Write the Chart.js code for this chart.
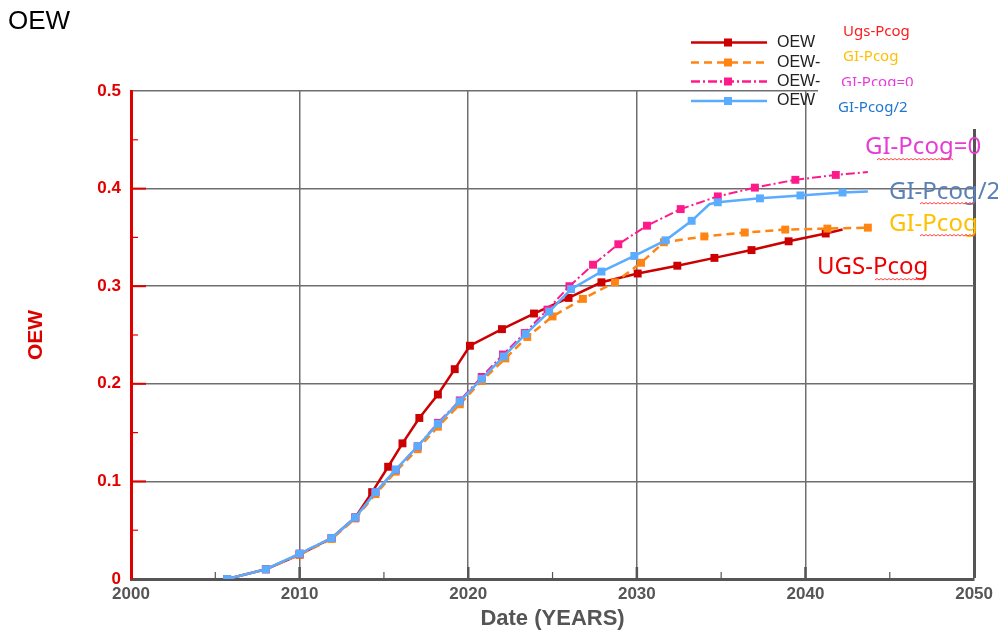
<!DOCTYPE html>
<html>
<head>
<meta charset="utf-8">
<script src="https://cdn.jsdelivr.net/npm/chart.js@4.4.1/dist/chart.umd.min.js"></script>
<style>
html,body{margin:0;padding:0;background:#fff;}
#wrap{position:relative;width:998px;height:632px;}
canvas{display:block;}
</style>
</head>
<body>
<div id="wrap"><canvas id="c" width="998" height="632"></canvas></div>
<script>
// ---- data ----
const xTickLabels = ['2000','2010','2020','2030','2040','2050'];
const yTickLabels = ['0','0.1','0.2','0.3','0.4','0.5'];

const ugsYears  = [2005.7, 2008.0, 2010.0, 2011.9, 2013.3, 2014.3, 2015.25, 2016.1, 2017.1, 2018.2, 2019.2, 2020.1, 2022.0, 2023.9, 2025.95, 2027.9, 2030.05, 2032.4, 2034.6, 2036.8, 2039.0, 2041.2, 2042.2];
const ugsValues = [0, 0.010, 0.025, 0.042, 0.063, 0.089, 0.115, 0.139, 0.165, 0.189, 0.215, 0.239, 0.256, 0.272, 0.288, 0.304, 0.313, 0.321, 0.329, 0.337, 0.346, 0.354, 0.358];
const ugsMarked = [1,1,1,1,1,1,1,1,1,1,1,1,1,1,1,1,1,1,1,1,1,1,0];

const giYears  = [2005.7, 2008.0, 2010.0, 2011.9, 2013.3, 2014.5, 2015.7, 2017.0, 2018.2, 2019.5, 2020.8, 2022.2, 2023.5, 2025.0, 2026.8, 2028.7, 2030.25, 2031.6, 2034.0, 2036.4, 2038.8, 2041.3, 2043.7];
const giValues = [0, 0.010, 0.025, 0.041, 0.062, 0.087, 0.110, 0.133, 0.156, 0.179, 0.203, 0.226, 0.248, 0.269, 0.287, 0.304, 0.324, 0.345, 0.351, 0.355, 0.358, 0.359, 0.360];
const giMarked = [1,1,1,1,1,1,1,1,1,1,1,1,1,1,1,1,1,1,1,1,1,1,1];

const gi0Years  = [2005.7, 2008.0, 2010.0, 2011.9, 2013.3, 2014.5, 2015.7, 2017.0, 2018.2, 2019.5, 2020.8, 2022.06, 2023.35, 2024.7, 2026.0, 2027.4, 2028.9, 2030.6, 2032.6, 2034.8, 2037.0, 2039.4, 2041.8, 2043.7];
const gi0Values = [0, 0.010, 0.026, 0.042, 0.063, 0.089, 0.112, 0.136, 0.160, 0.183, 0.207, 0.230, 0.252, 0.276, 0.300, 0.322, 0.343, 0.362, 0.379, 0.392, 0.401, 0.409, 0.414, 0.417];
const gi0Marked = [1,1,1,1,1,1,1,1,1,1,1,1,1,1,1,1,1,1,1,1,1,1,1,0];

const gi2Years  = [2005.7, 2008.0, 2010.0, 2011.9, 2013.3, 2014.5, 2015.7, 2017.0, 2018.2, 2019.5, 2020.8, 2022.1, 2023.4, 2024.8, 2026.1, 2027.9, 2029.85, 2031.7, 2033.25, 2034.3, 2034.8, 2037.3, 2039.7, 2042.2, 2043.7];
const gi2Values = [0, 0.010, 0.026, 0.042, 0.063, 0.089, 0.112, 0.136, 0.159, 0.182, 0.205, 0.228, 0.251, 0.274, 0.297, 0.315, 0.331, 0.347, 0.367, 0.384, 0.386, 0.390, 0.393, 0.396, 0.397];
const gi2Marked = [1,1,1,1,1,1,1,1,1,1,1,1,1,1,1,1,1,1,1,0,1,1,1,1,0];

const seriesNames = ['OEW', 'OEW-', 'OEW-', 'OEW'];

function pts(xs, ys){ return xs.map((x,i)=>({x:x, y:ys[i]})); }
function radii(m, r){ return m.map(v => v ? r : 0); }

const RED='#cc0000', ORANGE='#ff8411', PINK='#ff1a8c', BLUE='#5aacff';
const MR = 5.6;

const datasets = [
  {label: seriesNames[3], data: pts(gi2Years, gi2Values), borderColor: BLUE, backgroundColor: BLUE,
   borderWidth: 2.5, pointStyle:'rect', pointRadius: radii(gi2Marked,MR), pointBorderWidth:0, order:1},
  {label: seriesNames[2], data: pts(gi0Years, gi0Values), borderColor: PINK, backgroundColor: PINK,
   borderWidth: 2, borderDash:[9,3,2,3], pointStyle:'rect', pointRadius: radii(gi0Marked,MR), pointBorderWidth:0, order:2},
  {label: seriesNames[1], data: pts(giYears, giValues), borderColor: ORANGE, backgroundColor: ORANGE,
   borderWidth: 2.5, borderDash:[8,5], pointStyle:'rect', pointRadius: radii(giMarked,MR), pointBorderWidth:0, order:3},
  {label: seriesNames[0], data: pts(ugsYears, ugsValues), borderColor: RED, backgroundColor: RED,
   borderWidth: 2.5, pointStyle:'rect', pointRadius: radii(ugsMarked,MR), pointBorderWidth:0, order:4}
];

const decor = {
  id: 'decor',
  afterDraw(chart){
    const ctx = chart.ctx;
    const xs = chart.scales.x, ys = chart.scales.y;
    const ca = chart.chartArea;
    ctx.save();
    // inward tick marks, x axis
    for (let v = 2005; v < 2050; v += 5){
      const px = xs.getPixelForValue(v);
      const major = (v % 10 === 0);
      ctx.strokeStyle = '#555';
      ctx.lineWidth = major ? 2.5 : 1.2;
      ctx.beginPath(); ctx.moveTo(px, ca.bottom); ctx.lineTo(px, ca.bottom - (major ? 12 : 7)); ctx.stroke();
    }
    // inward tick marks, y axis
    for (let k = 1; k < 10; k++){
      const v = k * 0.05;
      const py = ys.getPixelForValue(v);
      const major = (k % 2 === 0);
      ctx.strokeStyle = '#e00000';
      ctx.lineWidth = major ? 2 : 1.2;
      ctx.beginPath(); ctx.moveTo(ca.left, py); ctx.lineTo(ca.left + (major ? 15 : 7), py); ctx.stroke();
    }
    // white annotation box covering the corner
    ctx.fillStyle = '#fff';
    ctx.fillRect(818, 86, 180, 43);

    // chart title
    ctx.fillStyle = '#000';
    ctx.font = '26px "Liberation Sans", Arial, sans-serif';
    ctx.textAlign = 'left'; ctx.textBaseline = 'alphabetic';
    ctx.fillText('OEW', 8, 29);

    // y axis title
    ctx.save();
    ctx.translate(36, 335); ctx.rotate(-Math.PI/2);
    ctx.fillStyle = '#dd0000';
    ctx.font = 'bold 21px "Liberation Sans", Arial, sans-serif';
    ctx.textAlign = 'center'; ctx.textBaseline = 'middle';
    ctx.fillText('OEW', 0, 0);
    ctx.restore();

    // legend
    const legY = [42.5, 62.5, 81.5, 101];
    const legCol = [RED, ORANGE, PINK, BLUE];
    const legDash = [[], [8,5], [9,3,2,3], []];
    for (let i = 0; i < 4; i++){
      ctx.strokeStyle = legCol[i];
      ctx.lineWidth = 2.5;
      ctx.setLineDash(legDash[i]);
      ctx.beginPath(); ctx.moveTo(691, legY[i]); ctx.lineTo(767, legY[i]); ctx.stroke();
      ctx.setLineDash([]);
      ctx.fillStyle = legCol[i];
      ctx.fillRect(724, legY[i]-4, 8, 8);
      ctx.fillStyle = '#222';
      ctx.font = '16px "Liberation Sans", Arial, sans-serif';
      ctx.textAlign = 'left'; ctx.textBaseline = 'middle';
      ctx.fillText(seriesNames[i], 777, legY[i]);
    }

    // small labels near legend
    ctx.font = '15px "Noto Sans", sans-serif';
    ctx.textBaseline = 'middle';
    ctx.fillStyle = '#ff1a1a'; ctx.fillText('Ugs-Pcog', 843, 32);
    ctx.fillStyle = '#ffc000'; ctx.fillText('GI-Pcog', 843, 57);
    ctx.save();
    ctx.beginPath(); ctx.rect(830, 70, 100, 16); ctx.clip();
    ctx.fillStyle = '#e83ad8'; ctx.fillText('GI-Pcog=0', 841, 83);
    ctx.restore();
    ctx.fillStyle = '#2277cc'; ctx.fillText('GI-Pcog/2', 838, 108);

    // large labels at curve ends
    ctx.font = '24px "Noto Sans", sans-serif';
    ctx.fillStyle = '#e63cd6'; ctx.fillText('GI-Pcog=0', 865, 147);
    ctx.fillStyle = '#5a80b8'; ctx.fillText('GI-Pcog/2', 889, 192);
    ctx.fillStyle = '#ffc000'; ctx.fillText('GI-Pcog', 889, 224);
    ctx.fillStyle = '#ee0000'; ctx.fillText('UGS-Pcog', 817, 267);

    // spell-check squiggles
    function squiggle(x0, x1, y){
      ctx.strokeStyle = '#ff4040'; ctx.lineWidth = 1;
      ctx.beginPath(); ctx.moveTo(x0, y);
      let up = true;
      for (let x = x0 + 2; x <= x1; x += 2){ ctx.lineTo(x, up ? y - 1.5 : y); up = !up; }
      ctx.stroke();
    }
    squiggle(877, 953, 160);
    squiggle(920, 975, 204);
    squiggle(920, 977, 236);
    squiggle(875, 925, 280);
    ctx.restore();
  }
};

new Chart(document.getElementById('c'), {
  type: 'line',
  data: { datasets },
  options: {
    responsive: false,
    animation: false,
    layout: { padding: { top: 91, right: 23, left: 0, bottom: 0 } },
    plugins: { legend: { display: false }, tooltip: { enabled: false } },
    elements: { line: { tension: 0 } },
    scales: {
      x: {
        type: 'linear', min: 2000, max: 2050,
        afterFit: s => { s.height = 53; },
        afterBuildTicks: s => { s.ticks = xTickLabels.map(t => ({ value: Number(t) })); },
        ticks: { callback: v => xTickLabels.find(t => Number(t) === v) || '', color: '#555',
                 font: { family: '"Liberation Sans", Arial, sans-serif', size: 17, weight: 'bold' }, padding: 5, maxRotation: 0 },
        grid: { drawTicks: false,
                color: c => (c.tick && (c.tick.value === 2000)) ? 'rgba(0,0,0,0)' : (c.tick && c.tick.value === 2050 ? '#555' : '#6e6e6e'),
                lineWidth: c => (c.tick && c.tick.value === 2050) ? 3 : 1.5 },
        border: { color: '#555', width: 3 },
        title: { display: true, text: 'Date (YEARS)', color: '#555',
                 font: { family: '"Liberation Sans", Arial, sans-serif', size: 22, weight: 'bold' }, padding: { top: 2, bottom: 0 } }
      },
      y: {
        min: 0, max: 0.5,
        afterFit: s => { s.width = 131; },
        afterBuildTicks: s => { s.ticks = yTickLabels.map(t => ({ value: Number(t) })); },
        ticks: { callback: v => yTickLabels.find(t => Math.abs(Number(t) - v) < 1e-9) || '', color: '#e00000',
                 font: { family: '"Liberation Sans", Arial, sans-serif', size: 17, weight: 'bold' }, padding: 10 },
        grid: { drawTicks: false,
                color: c => (c.tick && c.tick.value === 0) ? 'rgba(0,0,0,0)' : '#6e6e6e',
                lineWidth: 1.5 },
        border: { color: '#e00000', width: 3 }
      }
    }
  },
  plugins: [decor]
});
</script>
</body>
</html>
